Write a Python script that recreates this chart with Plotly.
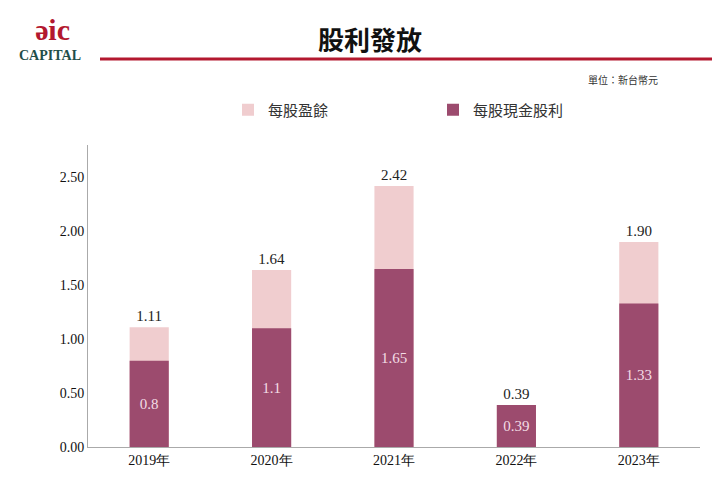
import plotly.graph_objects as go

years = ["2019年", "2020年", "2021年", "2022年", "2023年"]
eps = [1.11, 1.64, 2.42, 0.39, 1.90]
div = [0.8, 1.1, 1.65, 0.39, 1.33]
eps_labels = ["1.11", "1.64", "2.42", "0.39", "1.90"]
div_labels = ["0.8", "1.1", "1.65", "0.39", "1.33"]

W, H = 720, 479
OFF = 8  # page body margin
L, R, T, B = 88 - OFF, 28, 145 - OFF, 40
pw, ph = W - L - R, H - T - B
def px(x): return (x - OFF - L) / pw
def py(y): return (H - B - (y - OFF)) / ph

fig = go.Figure()
fig.add_bar(x=years, y=eps, name="每股盈餘", marker=dict(color="#F0CDCF", line=dict(width=0)),
            width=0.32, text=eps_labels, textposition="outside",
            textfont=dict(family="Liberation Serif", size=15, color="#222"), cliponaxis=False)
fig.add_bar(x=years, y=div, name="每股現金股利", marker=dict(color="#9C4B6E", line=dict(width=0)),
            width=0.32, text=div_labels, textposition="inside", insidetextanchor="middle",
            textfont=dict(family="Liberation Serif", size=15, color="#F3DDE5"))
fig.update_layout(
    width=W, height=H, barmode="overlay", plot_bgcolor="white", paper_bgcolor="white",
    margin=dict(l=L, r=R, t=T, b=B, autoexpand=False),
    legend=dict(orientation="h", x=px(228), xanchor="left", y=py(110), yanchor="middle",
                font=dict(family="Noto Sans CJK TC", size=15, color="#333"),
                traceorder="normal", itemwidth=30, entrywidth=160),
    xaxis=dict(showline=True, linecolor="#aaa", ticks="", tickfont=dict(family="Liberation Serif", size=14, color="#111")),
    yaxis=dict(range=[0, 2.8], tickvals=[0, 0.5, 1, 1.5, 2, 2.5], ticktext=["0.00", "0.50", "1.00", "1.50", "2.00", "2.50"],
               showline=True, linecolor="#aaa", showgrid=False, ticks="",
               tickfont=dict(family="Liberation Serif", size=14, color="#111")),
)
def note(text, x, y, size, color, family, xa="center"):
    fig.add_annotation(text=text, x=px(x), y=py(y), xref="paper", yref="paper", showarrow=False,
                       xanchor=xa, yanchor="middle", font=dict(family=family, size=size, color=color))
note("<b>股利發放</b>", 370, 38, 26, "#111", "Noto Sans CJK TC")
note("單位：新台幣元", 660, 80, 10, "#333", "Noto Sans CJK TC", "right")
note("<b>CAPITAL</b>", 50, 56, 14, "#1F4E4A", "Liberation Serif")
note("<b>ǝic</b>", 52, 30, 30, "#B3182F", "Liberation Serif")
fig.add_shape(type="line", xref="paper", yref="paper", x0=px(100), x1=px(728), y0=py(59), y1=py(59),
              line=dict(color="#B3182F", width=3))
fig.write_html("out.html")
